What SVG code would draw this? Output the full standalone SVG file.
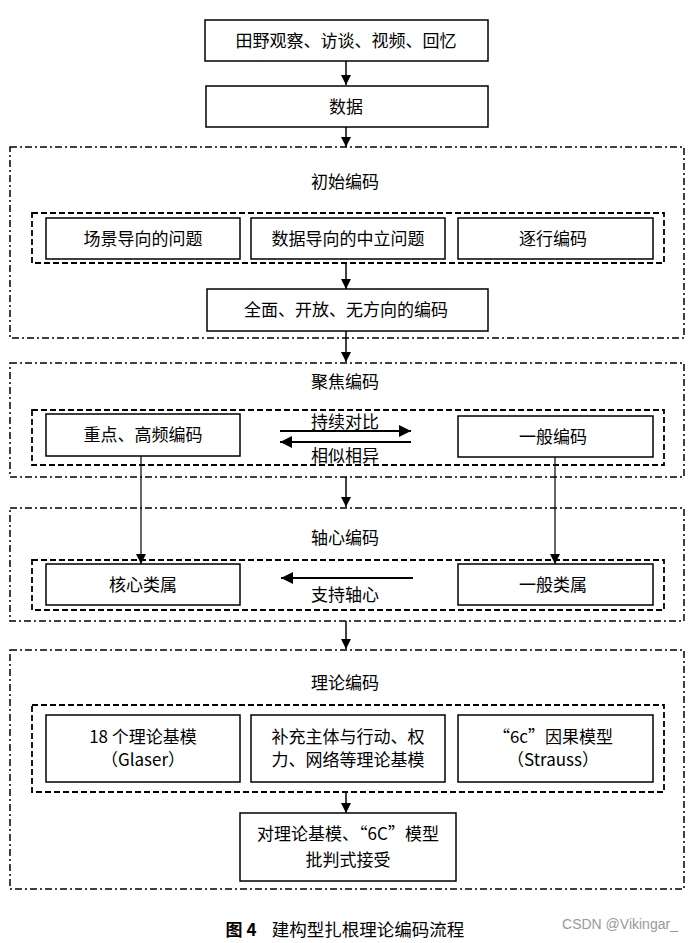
<svg xmlns="http://www.w3.org/2000/svg" width="690" height="943" viewBox="0 0 690 943">
<style>
text{font-family:"Noto Sans CJK SC","Liberation Sans",sans-serif;font-size:17px;fill:#000;text-anchor:middle;dominant-baseline:central}
.box{fill:#fff;stroke:#000;stroke-width:1.5}
.outer{fill:none;stroke:#000;stroke-width:1.5;stroke-dasharray:7 3 2 3}
.inner{fill:none;stroke:#000;stroke-width:1.8;stroke-dasharray:6 3}
.ln{fill:none;stroke:#000;stroke-width:1.5}
.thin{fill:none;stroke:#000;stroke-width:1.2}
.thick{fill:none;stroke:#000;stroke-width:2}
</style>
<defs>
<marker id="ah" viewBox="0 0 10 10" refX="10" refY="5" markerWidth="10" markerHeight="10" markerUnits="userSpaceOnUse" orient="auto"><path d="M0,0 L10,5 L0,10 Z" fill="#000"/></marker>
<marker id="ahb" viewBox="0 0 10 10" refX="10" refY="5" markerWidth="12" markerHeight="12" markerUnits="userSpaceOnUse" orient="auto"><path d="M0,0 L10,5 L0,10 Z" fill="#000"/></marker>
</defs>

<g id="groups">
<rect id="initial-coding" class="outer" x="10" y="147" width="674" height="191"/>
<rect id="focused-coding" class="outer" x="10" y="363" width="674" height="114"/>
<rect id="axial-coding" class="outer" x="10" y="508" width="674" height="113"/>
<rect id="theoretical-coding" class="outer" x="10" y="650" width="674" height="239"/>
<rect class="inner" x="32" y="213" width="632" height="50"/>
<rect class="inner" x="32" y="410" width="632" height="55"/>
<rect class="inner" x="32" y="560" width="632" height="50"/>
<rect class="inner" x="32" y="705" width="632" height="87"/>
<text x="345" y="180">初始编码</text>
<text x="345" y="380">聚焦编码</text>
<text x="345" y="536">轴心编码</text>
<text x="345" y="681">理论编码</text>
</g>

<g id="connectors">
<line class="ln" x1="346" y1="61" x2="346" y2="85" marker-end="url(#ah)"/>
<line class="ln" x1="346" y1="127" x2="346" y2="147" marker-end="url(#ah)"/>
<line class="ln" x1="346" y1="263" x2="346" y2="289" marker-end="url(#ah)"/>
<line class="ln" x1="346" y1="331" x2="346" y2="362" marker-end="url(#ah)"/>
<line class="ln" x1="346" y1="477" x2="346" y2="507" marker-end="url(#ah)"/>
<line class="ln" x1="346" y1="621" x2="346" y2="649" marker-end="url(#ah)"/>
<line class="ln" x1="346" y1="792" x2="346" y2="813" marker-end="url(#ah)"/>
<line class="thick" x1="280" y1="431" x2="411" y2="431" marker-end="url(#ahb)"/>
<line class="thick" x1="411" y1="442" x2="280" y2="442" marker-end="url(#ahb)"/>
<line class="thin" x1="141" y1="456" x2="141" y2="564" marker-end="url(#ah)"/>
<line class="thin" x1="555" y1="457" x2="555" y2="564" marker-end="url(#ah)"/>
<line class="thick" x1="413" y1="578" x2="281" y2="578" marker-end="url(#ahb)"/>
<text x="345" y="420">持续对比</text>
<text x="345" y="454">相似相异</text>
<text x="345" y="593">支持轴心</text>
</g>

<g id="n-sources"><rect class="box" x="205" y="20" width="283" height="41"/><text x="346" y="39">田野观察、访谈、视频、回忆</text></g>
<g id="n-data"><rect class="box" x="206" y="86" width="282" height="41"/><text x="346" y="105">数据</text></g>
<g id="n-scene"><rect class="box" x="46" y="218" width="194" height="41"/><text x="143" y="237">场景导向的问题</text></g>
<g id="n-neutral"><rect class="box" x="251" y="218" width="194" height="41"/><text x="348" y="237">数据导向的中立问题</text></g>
<g id="n-line"><rect class="box" x="458" y="218" width="195" height="41"/><text x="553" y="237">逐行编码</text></g>
<g id="n-open"><rect class="box" x="207" y="289" width="281" height="42"/><text x="346" y="308">全面、开放、无方向的编码</text></g>
<g id="n-key"><rect class="box" x="46" y="414" width="194" height="42"/><text x="143" y="433">重点、高频编码</text></g>
<g id="n-general-code"><rect class="box" x="458" y="416" width="195" height="41"/><text x="553" y="435">一般编码</text></g>
<g id="n-core"><rect class="box" x="46" y="564" width="194" height="41"/><text x="143" y="583">核心类属</text></g>
<g id="n-general-cat"><rect class="box" x="458" y="564" width="195" height="41"/><text x="553" y="583">一般类属</text></g>
<g id="n-glaser"><rect class="box" x="46" y="715" width="194" height="67"/><text x="143" y="735">18 个理论基模</text><text x="143" y="758">（Glaser）</text></g>
<g id="n-supplement"><rect class="box" x="251" y="715" width="194" height="67"/><text x="348" y="735">补充主体与行动、权</text><text x="348" y="758">力、网络等理论基模</text></g>
<g id="n-strauss"><rect class="box" x="458" y="715" width="195" height="67"/><text x="553" y="735">“6c”因果模型</text><text x="553" y="758">（Strauss）</text></g>
<g id="n-critical"><rect class="box" x="240" y="813" width="216" height="68"/><text x="348" y="832">对理论基模、“6C”模型</text><text x="348" y="858">批判式接受</text></g>

<g id="caption">
<text x="241" y="928" style="font-weight:bold">图 4</text>
<text x="368" y="928" style="font-size:17.5px">建构型扎根理论编码流程</text>
<text x="620" y="924" style="font-family:'Liberation Sans',sans-serif;font-size:14px;fill:#999">CSDN @Vikingar_</text>
</g>
</svg>
